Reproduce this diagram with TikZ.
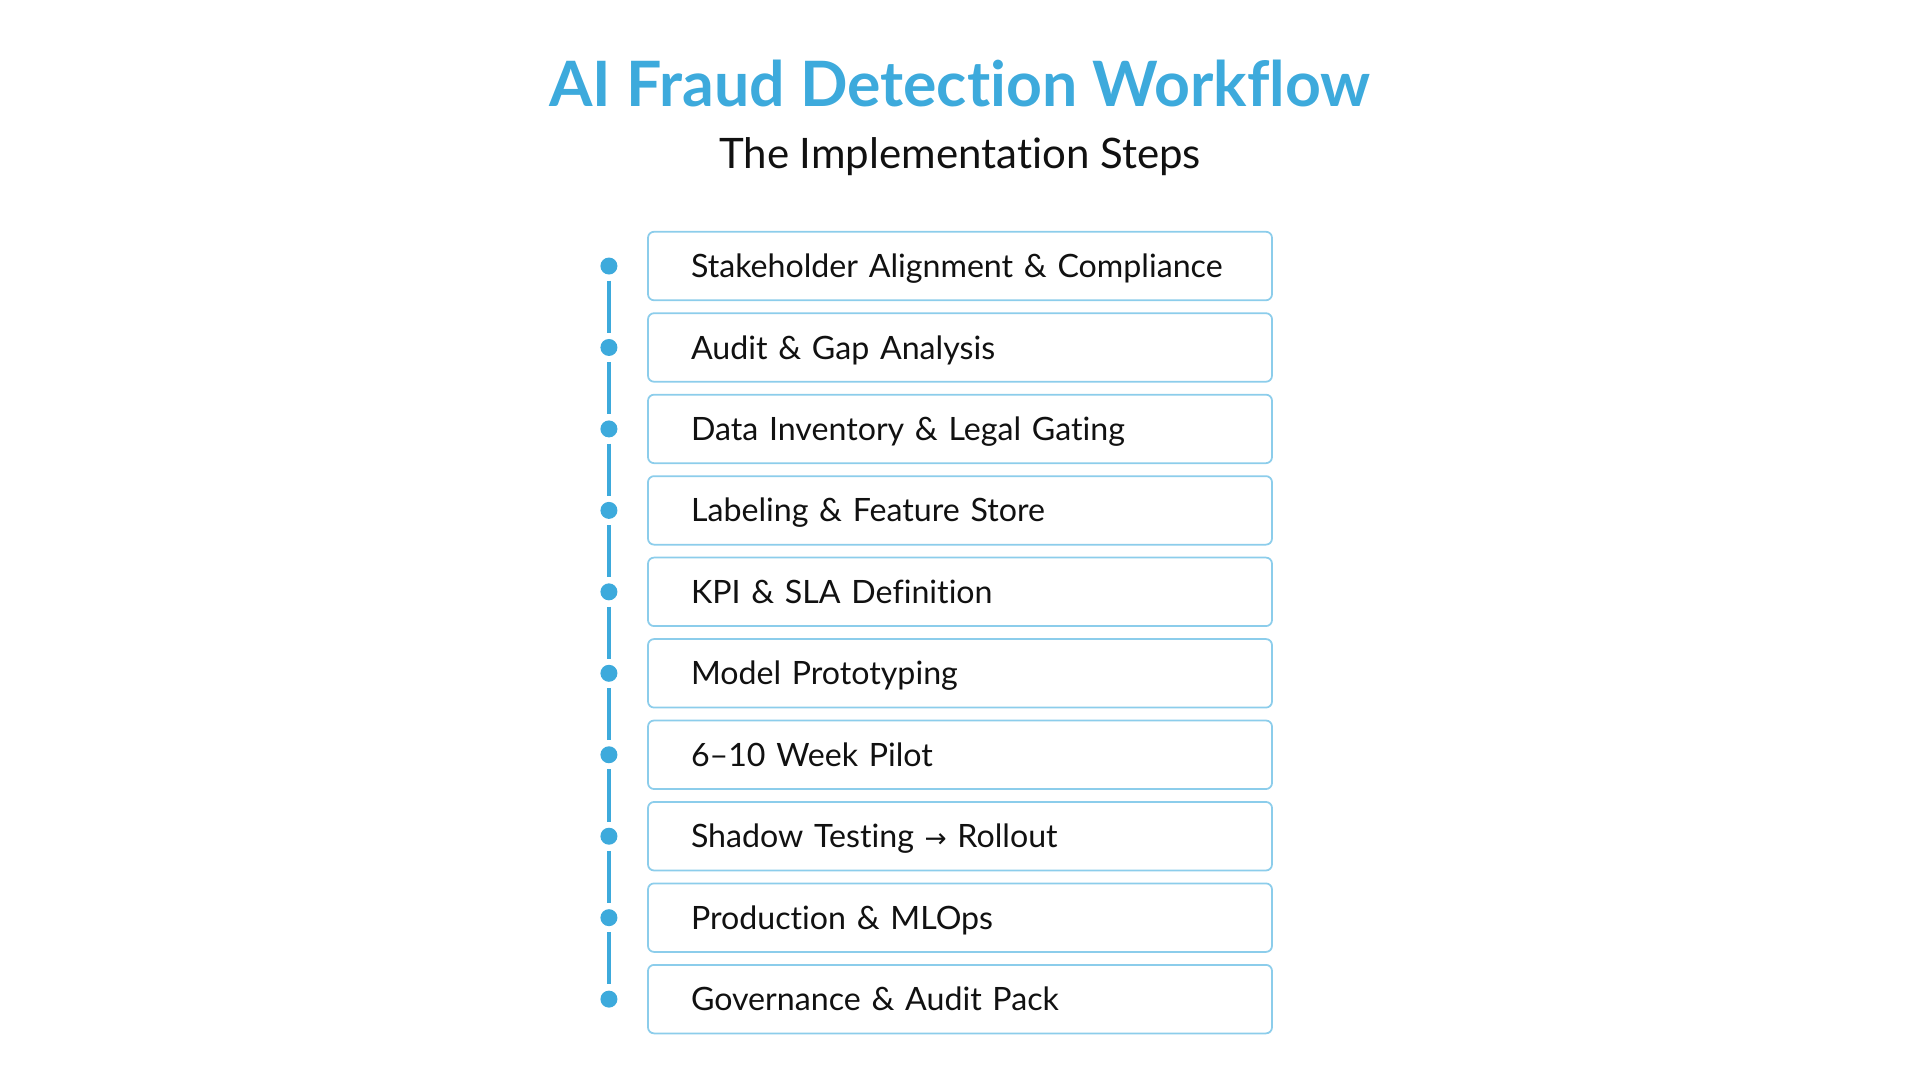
\documentclass[tikz,border=0pt]{standalone}
\usepackage{fontspec}
\setmainfont{Lato}[Ligatures=NoCommon]
\newfontfamily\arrowfont{DejaVu Sans}
\usepackage{xcolor}
\definecolor{sky-600}{RGB}{61,170,220}
\definecolor{sky-300}{RGB}{140,205,235}
\definecolor{gray-900}{RGB}{17,17,17}
\usepackage{tikz}
\usetikzlibrary{positioning}

\begin{document}
\begin{tikzpicture}[
    x=0.1mm, y=-0.1mm,
    stage box/.style={
        rounded corners=0.6mm,
        draw=sky-300,
        line width=0.5pt,
        fill=white,
        minimum height=6.85mm,
        text width=53.8mm,
        text height=6.6pt,
        text depth=0pt,
        inner xsep=4.3mm,
        inner ysep=0pt,
        font=\fontsize{9.15pt}{11pt}\selectfont,
        text=gray-900,
        align=left
    },
    dot/.style={
        circle,
        fill=sky-600,
        inner sep=0pt,
        minimum size=1.7mm
    },
    rail/.style={sky-600, line width=1pt, shorten <=0.55mm, shorten >=0.55mm},
    title text/.style={font=\fontsize{17.8pt}{20pt}\selectfont\bfseries, text=sky-600},
    subtitle text/.style={font=\fontsize{11.95pt}{14pt}\selectfont, text=gray-900}
]
\useasboundingbox (0,0) rectangle (1920,1080);

% === TITLES ===
\node[title text] (title) at (960,83) {AI Fraud Detection Workflow};
\node[subtitle text] (subtitle) at (960,157) {The Implementation Steps};

% === STEPS ===
\node[stage box] (stage1) at (960,266) {Stakeholder Alignment \& Compliance};
\node[stage box, below=1.12mm of stage1] (stage2) {Audit \& Gap Analysis};
\node[stage box, below=1.12mm of stage2] (stage3) {Data Inventory \& Legal Gating};
\node[stage box, below=1.12mm of stage3] (stage4) {Labeling \& Feature Store};
\node[stage box, below=1.12mm of stage4] (stage5) {KPI \& SLA Definition};
\node[stage box, below=1.12mm of stage5] (stage6) {Model Prototyping};
\node[stage box, below=1.12mm of stage6] (stage7) {6--10 Week Pilot};
\node[stage box, below=1.12mm of stage7] (stage8) {Shadow Testing {\arrowfont\fontsize{7.5pt}{9pt}\selectfont →} Rollout};
\node[stage box, below=1.12mm of stage8] (stage9) {Production \& MLOps};
\node[stage box, below=1.12mm of stage9] (stage10) {Governance \& Audit Pack};

% === TIMELINE DOTS ===
\node[dot, left=2.9mm of stage1] (dot1) {};
\node[dot, left=2.9mm of stage2] (dot2) {};
\node[dot, left=2.9mm of stage3] (dot3) {};
\node[dot, left=2.9mm of stage4] (dot4) {};
\node[dot, left=2.9mm of stage5] (dot5) {};
\node[dot, left=2.9mm of stage6] (dot6) {};
\node[dot, left=2.9mm of stage7] (dot7) {};
\node[dot, left=2.9mm of stage8] (dot8) {};
\node[dot, left=2.9mm of stage9] (dot9) {};
\node[dot, left=2.9mm of stage10] (dot10) {};

% === RAIL ===
\draw[rail] (dot1) -- (dot2);
\draw[rail] (dot2) -- (dot3);
\draw[rail] (dot3) -- (dot4);
\draw[rail] (dot4) -- (dot5);
\draw[rail] (dot5) -- (dot6);
\draw[rail] (dot6) -- (dot7);
\draw[rail] (dot7) -- (dot8);
\draw[rail] (dot8) -- (dot9);
\draw[rail] (dot9) -- (dot10);

\end{tikzpicture}
\end{document}
